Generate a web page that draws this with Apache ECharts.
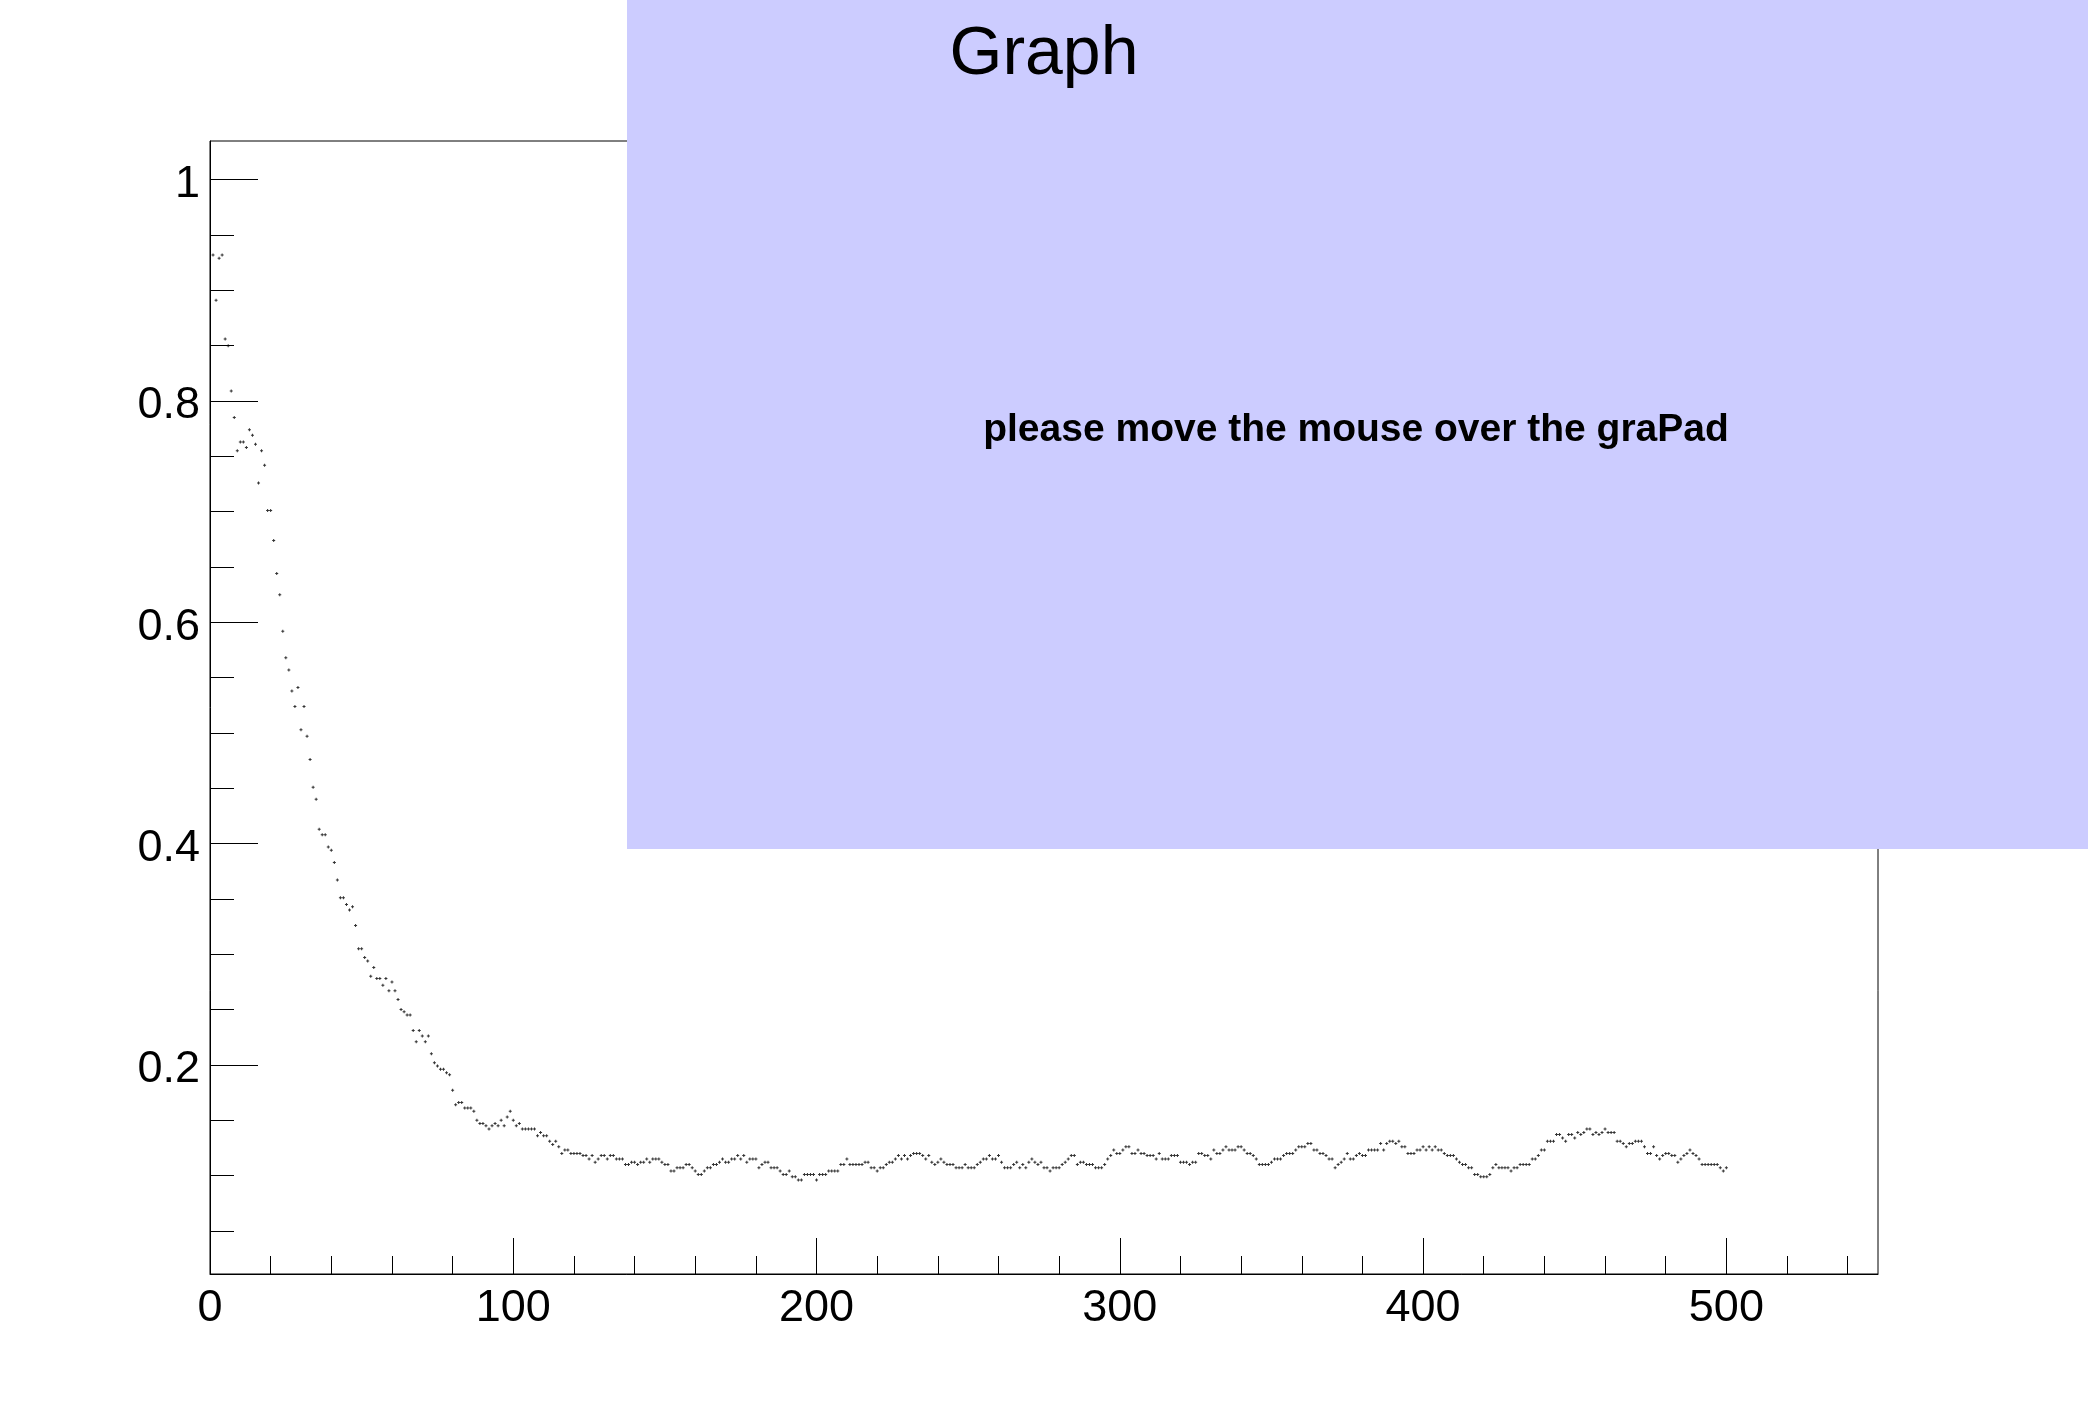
<!DOCTYPE html>
<html>
<head>
<meta charset="utf-8">
<script src="https://cdn.jsdelivr.net/npm/echarts@6/dist/echarts.min.js"></script>
<style>
html,body{margin:0;padding:0;background:#ffffff;}
#chart{width:2088px;height:1416px;}
</style>
</head>
<body>
<div id="chart"></div>
<script>
// ---- data (y values, x = 1..500) ----
const yValues1 = [
  0.932, 0.891, 0.929, 0.932, 0.856, 0.850, 0.809, 0.785, 0.755, 0.763,
  0.763, 0.758, 0.774, 0.769, 0.761, 0.726, 0.755, 0.742, 0.701, 0.701,
  0.674, 0.644, 0.625, 0.592, 0.568, 0.557, 0.538, 0.524, 0.541, 0.503,
  0.524, 0.497, 0.476, 0.451, 0.440, 0.413, 0.408, 0.408, 0.397, 0.394,
  0.383, 0.367, 0.351, 0.351, 0.345, 0.340, 0.343, 0.326, 0.305, 0.305,
  0.297, 0.294, 0.280, 0.288, 0.278, 0.278, 0.272, 0.278, 0.267, 0.275,
  0.267, 0.259, 0.250, 0.248, 0.245, 0.245, 0.231, 0.221, 0.231, 0.226,
  0.221, 0.226, 0.210, 0.202, 0.199, 0.196, 0.196, 0.193, 0.191, 0.177,
  0.164, 0.166, 0.166, 0.161, 0.161, 0.161, 0.158, 0.150, 0.147, 0.147,
  0.145, 0.142, 0.145, 0.147, 0.145, 0.150, 0.145, 0.153, 0.158, 0.150
];
const yValues2 = [
  0.145, 0.147, 0.142, 0.142, 0.142, 0.142, 0.142, 0.136, 0.139, 0.136,
  0.136, 0.131, 0.128, 0.131, 0.126, 0.120, 0.123, 0.123, 0.120, 0.120,
  0.120, 0.120, 0.118, 0.118, 0.115, 0.118, 0.112, 0.115, 0.118, 0.118,
  0.115, 0.118, 0.118, 0.115, 0.115, 0.115, 0.110, 0.110, 0.112, 0.112,
  0.110, 0.112, 0.112, 0.115, 0.112, 0.115, 0.115, 0.115, 0.112, 0.110,
  0.110, 0.104, 0.104, 0.107, 0.107, 0.107, 0.110, 0.110, 0.107, 0.104,
  0.101, 0.101, 0.104, 0.107, 0.107, 0.110, 0.110, 0.112, 0.115, 0.112,
  0.112, 0.115, 0.115, 0.118, 0.115, 0.118, 0.112, 0.115, 0.115, 0.115,
  0.107, 0.110, 0.112, 0.112, 0.107, 0.107, 0.107, 0.104, 0.101, 0.101,
  0.104, 0.099, 0.099, 0.096, 0.096, 0.101, 0.101, 0.101, 0.101, 0.096
];
const yValues3 = [
  0.101, 0.101, 0.101, 0.104, 0.104, 0.104, 0.104, 0.110, 0.110, 0.115,
  0.110, 0.110, 0.110, 0.110, 0.110, 0.112, 0.112, 0.107, 0.107, 0.104,
  0.107, 0.107, 0.110, 0.112, 0.112, 0.115, 0.118, 0.115, 0.118, 0.115,
  0.118, 0.120, 0.120, 0.120, 0.118, 0.115, 0.118, 0.112, 0.110, 0.112,
  0.115, 0.112, 0.110, 0.110, 0.110, 0.107, 0.107, 0.107, 0.110, 0.107,
  0.107, 0.107, 0.110, 0.112, 0.115, 0.115, 0.118, 0.115, 0.115, 0.118,
  0.112, 0.107, 0.107, 0.107, 0.110, 0.112, 0.107, 0.110, 0.107, 0.112,
  0.115, 0.112, 0.110, 0.112, 0.107, 0.107, 0.104, 0.107, 0.107, 0.107,
  0.110, 0.112, 0.115, 0.118, 0.118, 0.110, 0.112, 0.112, 0.110, 0.110,
  0.110, 0.107, 0.107, 0.107, 0.110, 0.115, 0.118, 0.123, 0.120, 0.120
];
const yValues4 = [
  0.123, 0.126, 0.126, 0.120, 0.120, 0.123, 0.120, 0.120, 0.118, 0.118,
  0.118, 0.115, 0.120, 0.115, 0.115, 0.115, 0.118, 0.118, 0.118, 0.112,
  0.112, 0.112, 0.110, 0.112, 0.112, 0.120, 0.120, 0.118, 0.118, 0.115,
  0.123, 0.120, 0.120, 0.123, 0.126, 0.123, 0.123, 0.123, 0.126, 0.126,
  0.123, 0.120, 0.120, 0.118, 0.115, 0.110, 0.110, 0.110, 0.110, 0.112,
  0.115, 0.115, 0.115, 0.118, 0.120, 0.120, 0.120, 0.123, 0.126, 0.126,
  0.126, 0.129, 0.129, 0.123, 0.123, 0.120, 0.120, 0.118, 0.115, 0.115,
  0.107, 0.110, 0.112, 0.115, 0.120, 0.115, 0.115, 0.118, 0.120, 0.118,
  0.118, 0.123, 0.123, 0.123, 0.123, 0.129, 0.123, 0.129, 0.131, 0.131,
  0.129, 0.131, 0.126, 0.126, 0.120, 0.120, 0.120, 0.123, 0.123, 0.126
];
const yValues5 = [
  0.123, 0.126, 0.123, 0.126, 0.123, 0.123, 0.120, 0.118, 0.118, 0.118,
  0.115, 0.112, 0.110, 0.110, 0.107, 0.107, 0.101, 0.101, 0.099, 0.099,
  0.099, 0.101, 0.107, 0.110, 0.107, 0.107, 0.107, 0.107, 0.104, 0.107,
  0.107, 0.110, 0.110, 0.110, 0.110, 0.115, 0.115, 0.118, 0.123, 0.123,
  0.131, 0.131, 0.131, 0.137, 0.137, 0.134, 0.131, 0.137, 0.137, 0.134,
  0.139, 0.137, 0.139, 0.142, 0.142, 0.137, 0.139, 0.137, 0.139, 0.142,
  0.139, 0.139, 0.139, 0.131, 0.131, 0.129, 0.126, 0.129, 0.129, 0.131,
  0.131, 0.131, 0.126, 0.120, 0.120, 0.126, 0.118, 0.115, 0.118, 0.120,
  0.120, 0.118, 0.118, 0.112, 0.115, 0.118, 0.120, 0.123, 0.120, 0.118,
  0.115, 0.110, 0.110, 0.110, 0.110, 0.110, 0.110, 0.107, 0.104, 0.107
];

// ---- tick labels / ticks ----
const xMajorTicks = [0, 100, 200, 300, 400, 500];
const xMinorTicks = [20, 40, 60, 80, 120, 140, 160, 180, 220, 240, 260, 280, 320, 340, 360, 380, 420, 440, 460, 480, 520, 540];
const yMajorTicks = [0.2, 0.4, 0.6, 0.8, 1];
const yMinorTicks = [0.05, 0.1, 0.15, 0.25, 0.3, 0.35, 0.45, 0.5, 0.55, 0.65, 0.7, 0.75, 0.85, 0.9, 0.95];

// ---- texts ----
const titleText = 'Graph';
const noteText = 'please move the mouse over the graPad';

// ---- build ----
const yValues = [].concat(yValues1, yValues2, yValues3, yValues4, yValues5);
const points = yValues.map(function (v, i) { return [i + 1, v]; });

const FONT = 'Liberation Sans, Arial, Helvetica, sans-serif';
const X_MIN = 0, X_MAX = 550, Y_MIN = 0.011, Y_MAX = 1.035;
const gridBox = { left: 210, top: 141, width: 1668, height: 1133 };
const plusSymbol = 'path://M1,0L2,0L2,1L3,1L3,2L2,2L2,3L1,3L1,2L0,2L0,1L1,1Z';

const chart = echarts.init(document.getElementById('chart'), null, { renderer: 'canvas' });
chart.setOption({
  animation: false,
  backgroundColor: '#ffffff',
  title: {
    text: titleText,
    left: 'center',
    top: 21,
    padding: 0,
    z: 120,
    textStyle: { fontFamily: FONT, fontSize: 68, fontWeight: 'normal', color: '#000000' }
  },
  grid: [
    Object.assign({ show: true, borderColor: '#000000', borderWidth: 1, backgroundColor: 'transparent', containLabel: false }, gridBox),
    Object.assign({ show: false, containLabel: false }, gridBox)
  ],
  xAxis: [
    {
      type: 'value', gridIndex: 0, min: X_MIN, max: X_MAX, position: 'bottom',
      axisLine: { show: true, onZero: false, lineStyle: { color: '#000000', width: 1 } },
      axisTick: { show: true, inside: true, length: 36, customValues: xMajorTicks, lineStyle: { color: '#000000', width: 1 } },
      axisLabel: { show: true, customValues: xMajorTicks, margin: 12, fontFamily: FONT, fontSize: 45, color: '#000000' },
      splitLine: { show: false }
    },
    {
      type: 'value', gridIndex: 1, min: X_MIN, max: X_MAX, position: 'bottom',
      axisLine: { show: false, onZero: false },
      axisTick: { show: true, inside: true, length: 18, customValues: xMinorTicks, lineStyle: { color: '#000000', width: 1 } },
      axisLabel: { show: false },
      splitLine: { show: false }
    }
  ],
  yAxis: [
    {
      type: 'value', gridIndex: 0, min: Y_MIN, max: Y_MAX, position: 'left',
      axisLine: { show: true, onZero: false, lineStyle: { color: '#000000', width: 1 } },
      axisTick: { show: true, inside: true, length: 48, customValues: yMajorTicks, lineStyle: { color: '#000000', width: 1 } },
      axisLabel: { show: true, customValues: yMajorTicks, margin: 10, verticalAlign: 'top', lineHeight: 10, fontFamily: FONT, fontSize: 45, color: '#000000' },
      splitLine: { show: false }
    },
    {
      type: 'value', gridIndex: 1, min: Y_MIN, max: Y_MAX, position: 'left',
      axisLine: { show: false, onZero: false },
      axisTick: { show: true, inside: true, length: 24, customValues: yMinorTicks, lineStyle: { color: '#000000', width: 1 } },
      axisLabel: { show: false },
      splitLine: { show: false }
    }
  ],
  series: [
    {
      type: 'scatter',
      xAxisIndex: 0, yAxisIndex: 0,
      data: points,
      symbol: plusSymbol,
      symbolSize: 3,
      itemStyle: { color: '#000000' },
      silent: true,
      z: 5
    }
  ],
  graphic: [
    {
      type: 'rect', left: 627, top: 0, z: 100, silent: true,
      shape: { width: 2088 - 627, height: 849 },
      style: { fill: '#ccccff' }
    },
    {
      type: 'text', x: 1356, y: 430, z: 110, silent: true,
      style: { text: noteText, fontFamily: FONT, fontSize: 39, fontWeight: 'bold', fill: '#000000', align: 'center', verticalAlign: 'middle' }
    }
  ]
});
</script>
</body>
</html>
